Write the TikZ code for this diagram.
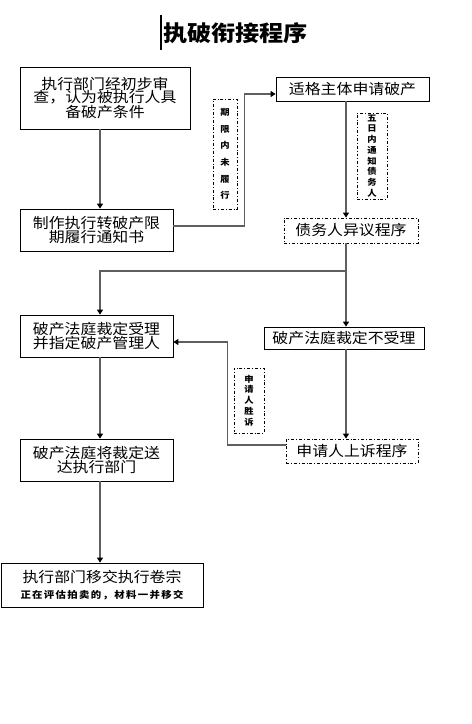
\documentclass[tikz,border=0pt]{standalone}
\usepackage{fontspec}
\setmainfont{Noto Sans CJK SC}[FakeStretch=1.1]
\newfontfamily\widecjk{Noto Sans CJK SC}[FakeStretch=1.1, LetterSpace=14]
\usetikzlibrary{positioning,arrows.meta}
\definecolor{linegray}{RGB}{95,95,95}

\begin{document}
\begin{tikzpicture}[x=1bp, y=-1bp, thick]

        % Styles
        \tikzstyle{block} = [draw, rectangle, line width=0.8bp, inner sep=0pt, align=center, minimum width=153bp, minimum height=42bp, font=\fontsize{14.5}{13.5}\selectfont]
        \tikzstyle{proc} = [block, dash dot, minimum height=24bp]
        \tikzstyle{note} = [draw, rectangle, dash dot, line width=0.8bp, inner sep=0pt, align=center, minimum width=30bp, font=\fontsize{8.5}{10.8}\selectfont\bfseries]
        \tikzstyle{conn} = [draw=linegray, line width=1.3bp, -{Triangle[length=5bp, width=6bp, color=black]}]

        \useasboundingbox (0,0) rectangle (472,724);

        % Title
        \node (title) at (235.5,33) {\fontsize{22}{22}\selectfont\bfseries 执破衔接程序};
        \draw[line width=1.5bp] (161,15) -- (161,50);

        % Columns
        \coordinate (colL) at (100,0);
        \coordinate (colR) at (346,0);
        \coordinate (split) at (346,271);

        % Nodes
        \node [block, minimum width=170bp, minimum height=62bp] (check) at (105,98) {执行部门经初步审\\查，认为被执行人具\\备破产条件};
        \node [block] (notice) at (96.5,230) {制作执行转破产限\\期履行通知书};
        \node [block, minimum height=24bp] (apply) at (352.5,89) {适格主体申请破产};
        \node [proc, minimum width=134bp, minimum height=25bp] (objection) at (351,230.5) {债务人异议程序};
        \node [block] (accept) at (96.5,336) {破产法庭裁定受理\\并指定破产管理人};
        \node [block, minimum width=160bp, minimum height=22bp] (reject) at (344,338) {破产法庭裁定不受理};
        \node [proc, minimum width=132bp] (appeal) at (352,451) {申请人上诉程序};
        \node [block] (deliver) at (96.5,460) {破产法庭将裁定送\\达执行部门};
        \node [block, minimum width=202bp, minimum height=44bp] (transfer) at (102,585) {执行部门移交执行卷宗\\[3bp]{\widecjk\fontsize{9.5}{9.5}\selectfont\bfseries 正在评估拍卖的，材料一并移交}};

        % Notes
        \node [note, minimum width=24bp, minimum height=110bp, font=\fontsize{8.5}{16.7}\selectfont\bfseries] (overdue) at (225,154) {期\\限\\内\\未\\履\\行};
        \node [note, minimum height=86bp] (inform) at (372,156) {五\\日\\内\\通\\知\\债\\务\\人};
        \node [note, minimum height=65bp] (win) at (249,400.5) {申\\请\\人\\胜\\诉};

        % Arrows
        \draw[conn] (check.south -| colL) -- (notice.north -| colL);
        \draw[conn] ([yshift=4bp]notice.east) -- ++(71,0) |- ([yshift=-5bp]apply.west);
        \draw[conn] (apply.south -| colR) -- (objection.north -| colR);
        \draw[conn] (objection.south -| colR) -- (reject.north -| colR);
        \draw[conn] (split) -| (accept.north -| colL);
        \draw[conn] (reject.south -| colR) -- (appeal.north -| colR);
        \draw[conn] ([yshift=6bp]appeal.west) -- ++(-58,0) |- ([yshift=-6bp]accept.east);
        \draw[conn] (accept.south -| colL) -- (deliver.north -| colL);
        \draw[conn] (deliver.south -| colL) -- (transfer.north -| colL);

\end{tikzpicture}
\end{document}
